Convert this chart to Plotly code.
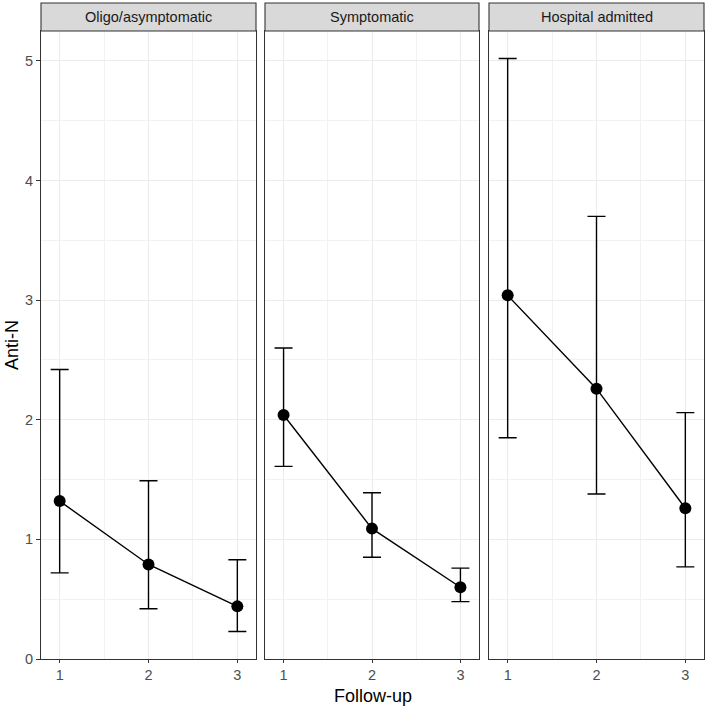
import plotly.graph_objects as go
from plotly.subplots import make_subplots

groups = ["Oligo/asymptomatic", "Symptomatic", "Hospital admitted"]
follow_up = [1, 2, 3]

# mean anti-N and the lower/upper ends of the error bars, per group
anti_n = [
    [1.32, 0.79, 0.44],
    [2.04, 1.09, 0.60],
    [3.04, 2.26, 1.26],
]
upper = [
    [2.42, 1.49, 0.83],
    [2.60, 1.39, 0.76],
    [5.02, 3.70, 2.06],
]
lower = [
    [0.72, 0.42, 0.23],
    [1.61, 0.85, 0.48],
    [1.85, 1.38, 0.77],
]

y_ticks = [0, 1, 2, 3, 4, 5]

W, H = 707, 710
ml, mr, mt, mb = 41, 3, 31, 51
pw = W - ml - mr
ph = H - mt - mb

fig = make_subplots(rows=1, cols=3, shared_yaxes=True)

domains = [[0, 215 / pw], [224 / pw, 438 / pw], [448 / pw, 1]]
font = "Liberation Sans, Arial, sans-serif"

for i, g in enumerate(groups):
    fig.add_trace(go.Scatter(
        x=follow_up,
        y=anti_n[i],
        mode="lines+markers",
        line=dict(color="black", width=1.4),
        marker=dict(color="black", size=12),
        error_y=dict(
            type="data",
            symmetric=False,
            array=[u - m for u, m in zip(upper[i], anti_n[i])],
            arrayminus=[m - l for m, l in zip(anti_n[i], lower[i])],
            color="black", thickness=1.4, width=9,
        ),
        showlegend=False,
        hoverinfo="x+y",
    ), row=1, col=i + 1)

    xa = "xaxis" if i == 0 else f"xaxis{i + 1}"
    fig.layout[xa].update(
        domain=domains[i], range=[0.79, 3.21],
        tickvals=follow_up, ticktext=[str(v) for v in follow_up],
        showgrid=True, gridcolor="#EBEBEB", gridwidth=1.1,
        minor=dict(tickvals=[1.5, 2.5], showgrid=True, gridcolor="#F2F2F2", gridwidth=0.6),
        showline=True, linecolor="#333333", linewidth=1.1, mirror=True,
        ticks="outside", ticklen=3, tickcolor="#333333", tickwidth=1.1,
        tickfont=dict(family=font, size=14.5, color="#4D4D4D"),
        zeroline=False,
    )
    ya = "yaxis" if i == 0 else f"yaxis{i + 1}"
    fig.layout[ya].update(
        range=[0, 5.25],
        tickvals=y_ticks,
        showgrid=True, gridcolor="#EBEBEB", gridwidth=1.1,
        minor=dict(dtick=0.5, showgrid=True, gridcolor="#F2F2F2", gridwidth=0.6),
        showline=True, linecolor="#333333", linewidth=1.1, mirror=True,
        ticks="outside" if i == 0 else "", ticklen=4, tickcolor="#333333", tickwidth=1.1,
        showticklabels=(i == 0),
        tickfont=dict(family=font, size=14.5, color="#4D4D4D"),
        zeroline=False,
    )

    # facet strip
    fig.add_shape(type="rect", xref="paper", yref="paper",
                  x0=domains[i][0], x1=domains[i][1], y0=1, y1=1 + 28 / ph,
                  fillcolor="#D9D9D9", line=dict(color="#333333", width=1.1), layer="above")
    fig.add_annotation(text=g, xref="paper", yref="paper",
                       x=(domains[i][0] + domains[i][1]) / 2, y=1 + 14 / ph,
                       showarrow=False, xanchor="center", yanchor="middle",
                       font=dict(family=font, size=14.5, color="#1A1A1A"))

fig.add_annotation(text="Follow-up", xref="paper", yref="paper", x=0.5, y=-37 / ph,
                   showarrow=False, yanchor="middle",
                   font=dict(family=font, size=18, color="black"))
fig.add_annotation(text="Anti-N", xref="paper", yref="paper", x=-29 / pw, y=0.5,
                   showarrow=False, textangle=-90, xanchor="center",
                   font=dict(family=font, size=18, color="black"))

fig.update_layout(
    width=W, height=H,
    margin=dict(l=ml, r=mr, t=mt, b=mb, autoexpand=False),
    plot_bgcolor="white", paper_bgcolor="white",
)

fig.write_html("out.html", config={"displayModeBar": False},
               post_script="document.body.style.margin='0';")
